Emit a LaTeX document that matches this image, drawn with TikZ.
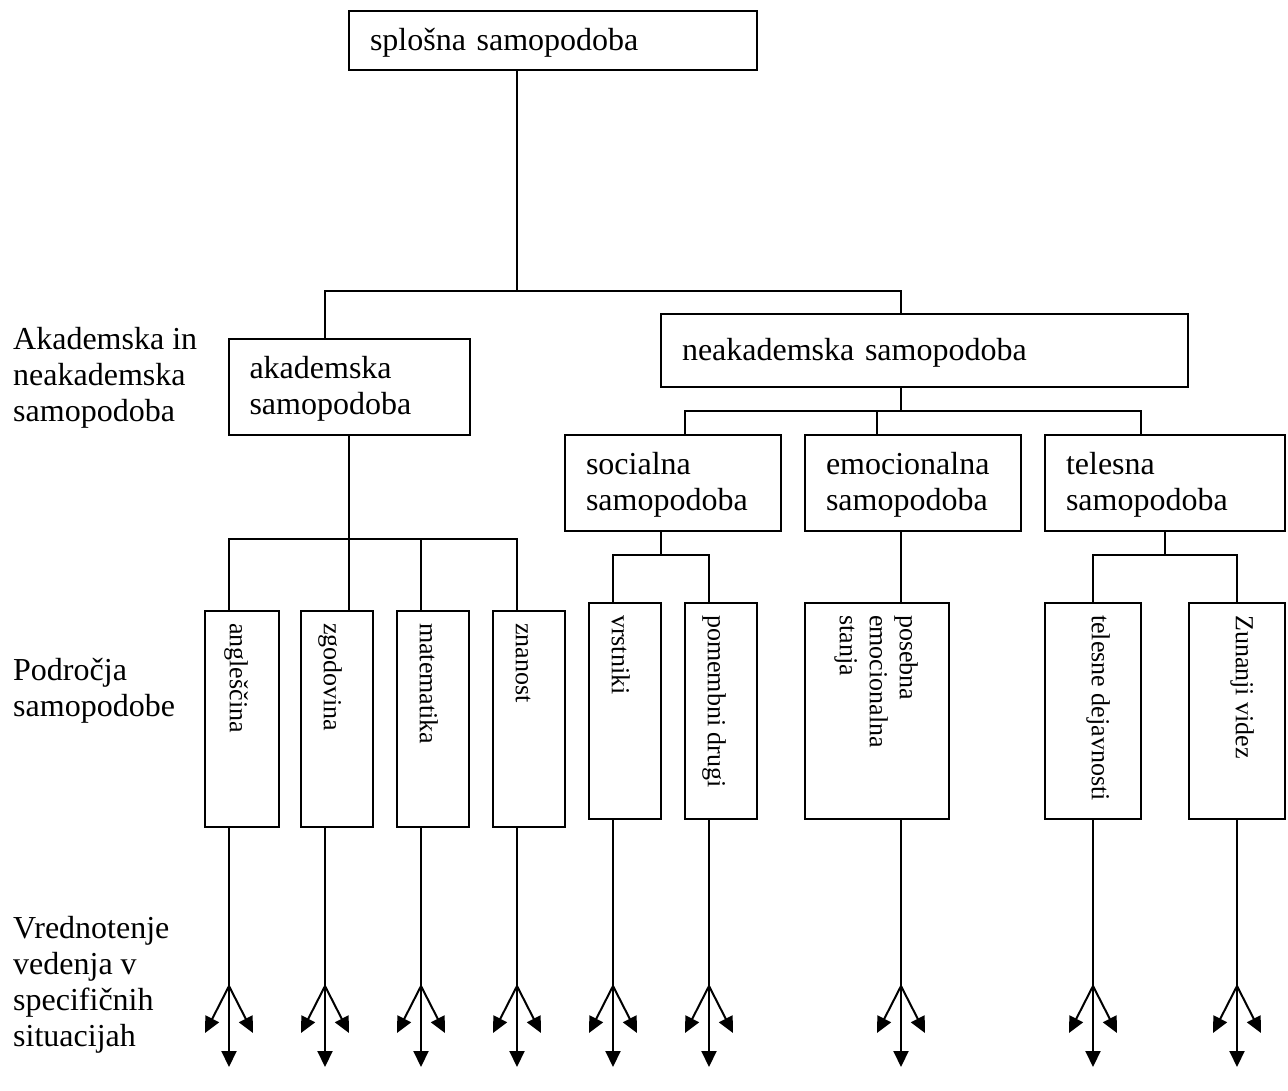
\documentclass[tikz,border=0pt]{standalone}
\usepackage{fontspec}
\setmainfont{Liberation Serif}
\usetikzlibrary{arrows.meta}
\newcommand\mainfs{\fontsize{32pt}{36pt}\selectfont}
\newcommand\rotfs{\fontsize{26pt}{30pt}\selectfont}
\newcommand\strA{\rule{0pt}{26pt}}
\newcommand\strB{\rule{0pt}{19pt}}
\begin{document}
\begin{tikzpicture}[x=1pt,y=-1pt,
  bx/.style={draw, line width=2pt, inner sep=0pt, outer sep=0pt},
  tb/.style={bx, align=left, font=\mainfs, inner xsep=21pt},
  lbl/.style={align=left, font=\mainfs, inner sep=0pt, anchor=north west},
  rl/.style={align=left, font=\rotfs, inner sep=0pt, rotate=-90, anchor=north west},
  ln/.style={line width=2pt},
  arr/.style={line width=2pt, -{Triangle[length=16pt,width=15pt]}}]
\useasboundingbox (0,0) rectangle (1288,1090);

% text boxes
\node[tb, text width=366pt, minimum width=408pt, minimum height=59pt] (top) at (553,40.5) {\strA splošna samopodoba};
\node[tb, text width=199pt, minimum width=241pt, minimum height=96pt] (akad) at (349,387) {\strA akademska\\samopodoba};
\node[tb, text width=485pt, minimum width=527pt, minimum height=73pt] (neak) at (924.5,350.5) {\strA neakademska samopodoba};
\node[tb, text width=174pt, minimum width=216pt, minimum height=96pt] (soc) at (673,483) {\strA socialna\\samopodoba};
\node[tb, text width=174pt, minimum width=216pt, minimum height=96pt] (emo) at (913,483) {\strA emocionalna\\samopodoba};
\node[tb, text width=198pt, minimum width=240pt, minimum height=96pt] (tel) at (1165,483) {\strA telesna\\samopodoba};

% vertical boxes
\node[bx, minimum width=74pt, minimum height=216pt] (ang) at (242,719) {};
\node[bx, minimum width=72pt, minimum height=216pt] (zgo) at (337,719) {};
\node[bx, minimum width=72pt, minimum height=216pt] (mat) at (433,719) {};
\node[bx, minimum width=72pt, minimum height=216pt] (zna) at (529,719) {};
\node[bx, minimum width=72pt, minimum height=216pt] (vrs) at (625,711) {};
\node[bx, minimum width=72pt, minimum height=216pt] (pom) at (721,711) {};
\node[bx, minimum width=144pt, minimum height=216pt] (pos) at (877,711) {};
\node[bx, minimum width=96pt, minimum height=216pt] (tld) at (1093,711) {};
\node[bx, minimum width=96pt, minimum height=216pt] (zun) at (1237,711) {};

% rotated labels
\node[rl] (ang-t) at ([shift={(-30pt,-12pt)}]ang.north east) {\strB angleščina};
\node[rl] (zgo-t) at ([shift={(-30pt,-12pt)}]zgo.north east) {\strB zgodovina};
\node[rl] (mat-t) at ([shift={(-30pt,-12pt)}]mat.north east) {\strB matematika};
\node[rl] (zna-t) at ([shift={(-30pt,-12pt)}]zna.north east) {\strB znanost};
\node[rl] (vrs-t) at ([shift={(-30pt,-12pt)}]vrs.north east) {\strB vrstniki};
\node[rl] (pom-t) at ([shift={(-30pt,-12pt)}]pom.north east) {\strB pomembni drugi};
\node[rl] (pos-t) at ([shift={(-30pt,-12pt)}]pos.north east) {\strB posebna\\emocionalna\\stanja};
\node[rl] (tld-t) at ([shift={(-30pt,-12pt)}]tld.north east) {\strB telesne dejavnosti};
\node[rl] (zun-t) at ([shift={(-30pt,-12pt)}]zun.north east) {\strB Zunanji videz};

% left labels
\node[lbl] (L1) at (13,323) {\strA Akademska in\\neakademska\\samopodoba};
\node[lbl] (L2) at (13,654) {\strA Področja\\samopodobe};
\node[lbl] (L3) at (13,912) {\strA Vrednotenje\\vedenja v\\specifičnih\\situacijah};

% connectors: top level
\coordinate (j0) at (517,291);
\coordinate (ja) at (325,291);
\coordinate (jn) at (901,291);
\draw[ln] (j0 |- top.south) -- (j0);
\draw[ln] (ja |- akad.north) -- (ja) -- (jn) -- (jn |- neak.north);

% non-academic
\coordinate (n0) at (901,411);
\coordinate (ns) at (685,411);
\coordinate (ne) at (877,411);
\coordinate (nt) at (1141,411);
\draw[ln] (n0 |- neak.south) -- (n0);
\draw[ln] (ns |- soc.north) -- (ns) -- (nt) -- (nt |- tel.north);
\draw[ln] (ne) -- (ne |- emo.north);

% academic
\coordinate (k1) at (229,539);
\coordinate (k2) at (349,539);
\coordinate (k3) at (421,539);
\coordinate (k4) at (517,539);
\draw[ln] (k2 |- akad.south) -- (k2);
\draw[ln] (k1 |- ang.north) -- (k1) -- (k4) -- (k4 |- zna.north);
\draw[ln] (k2) -- (k2 |- zgo.north);
\draw[ln] (k3) -- (k3 |- mat.north);

% social
\coordinate (s0) at (661,555);
\coordinate (s1) at (613,555);
\coordinate (s2) at (709,555);
\draw[ln] (s0 |- soc.south) -- (s0);
\draw[ln] (s1 |- vrs.north) -- (s1) -- (s2) -- (s2 |- pom.north);

% emotional
\coordinate (e0) at (901,560);
\draw[ln] (e0 |- emo.south) -- (e0 |- pos.north);

% physical
\coordinate (t0) at (1165,555);
\coordinate (t1) at (1093,555);
\coordinate (t2) at (1237,555);
\draw[ln] (t0 |- tel.south) -- (t0);
\draw[ln] (t1 |- tld.north) -- (t1) -- (t2) -- (t2 |- zun.north);

% arrow fans
\foreach \n/\x in {ang/229,zgo/325,mat/421,zna/517,vrs/613,pom/709,pos/901,tld/1093,zun/1237}{
  \coordinate (\n-f) at (\x,986);
  \coordinate (\n-c) at (\x,1067);
  \coordinate (\n-l) at ({\x-24},1033);
  \coordinate (\n-r) at ({\x+24},1033);
  \draw[arr] (\n-f |- \n.south) -- (\n-c);
  \draw[arr] (\n-f) -- (\n-l);
  \draw[arr] (\n-f) -- (\n-r);
}
\end{tikzpicture}
\end{document}
